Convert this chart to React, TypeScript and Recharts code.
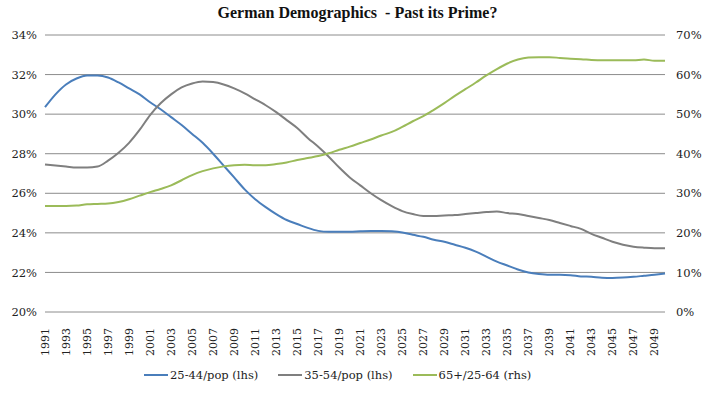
import { LineChart, Line, XAxis, YAxis, CartesianGrid } from "recharts";

// years 1991..2050
const years = [
  "1991", "1992", "1993", "1994", "1995", "1996", "1997", "1998", "1999", "2000",
  "2001", "2002", "2003", "2004", "2005", "2006", "2007", "2008", "2009", "2010",
  "2011", "2012", "2013", "2014", "2015", "2016", "2017", "2018", "2019", "2020",
  "2021", "2022", "2023", "2024", "2025", "2026", "2027", "2028", "2029", "2030",
  "2031", "2032", "2033", "2034", "2035", "2036", "2037", "2038", "2039", "2040",
  "2041", "2042", "2043", "2044", "2045", "2046", "2047", "2048", "2049", "2050",
];

// 25-44/pop (lhs), %
const young = [
  30.35, 31.0, 31.5, 31.8, 31.95, 31.95, 31.85, 31.6, 31.3, 31.0,
  30.6, 30.25, 29.85, 29.45, 29.0, 28.55, 28.0, 27.4, 26.8, 26.2,
  25.7, 25.3, 24.95, 24.65, 24.45, 24.25, 24.1, 24.05, 24.05, 24.05,
  24.08, 24.1, 24.1, 24.08, 24.02, 23.9, 23.8, 23.65, 23.55, 23.4,
  23.25, 23.05, 22.8, 22.55, 22.35, 22.15, 22.0, 21.92, 21.88, 21.88,
  21.86, 21.8, 21.78, 21.73, 21.72, 21.74, 21.78, 21.83, 21.88, 21.95,
];

// 35-54/pop (lhs), %
const middle = [
  27.45, 27.4, 27.35, 27.3, 27.3, 27.35, 27.65, 28.05, 28.55, 29.2,
  29.95, 30.55, 31.0, 31.35, 31.55, 31.65, 31.62, 31.5, 31.3, 31.05,
  30.75, 30.45, 30.1, 29.7, 29.3, 28.8, 28.35, 27.85, 27.3, 26.8,
  26.4, 26.0, 25.65, 25.35, 25.1, 24.95, 24.85, 24.85, 24.88, 24.9,
  24.95, 25.0, 25.05, 25.08, 25.0, 24.95, 24.85, 24.75, 24.65, 24.5,
  24.35, 24.2, 23.95, 23.75, 23.55, 23.4, 23.3, 23.25, 23.22, 23.22,
];

// 65+/25-64 (rhs), %
const oldAge = [
  26.8, 26.8, 26.8, 26.9, 27.2, 27.3, 27.4, 27.8, 28.5, 29.4,
  30.3, 31.1, 32.0, 33.3, 34.6, 35.6, 36.3, 36.8, 37.1, 37.2,
  37.1, 37.1, 37.4, 37.8, 38.4, 38.9, 39.4, 40.1, 41.0, 41.8,
  42.7, 43.6, 44.6, 45.5, 46.8, 48.2, 49.5, 51.1, 52.8, 54.6,
  56.3, 58.0, 59.8, 61.4, 62.8, 63.8, 64.3, 64.4, 64.4, 64.2,
  64.0, 63.9, 63.7, 63.6, 63.6, 63.6, 63.6, 63.8, 63.5, 63.5,
];

const leftTicks = [20, 22, 24, 26, 28, 30, 32, 34];
const rightTicks = [0, 10, 20, 30, 40, 50, 60, 70];

const seriesNames = ["25-44/pop (lhs)", "35-54/pop (lhs)", "65+/25-64 (rhs)"];
const seriesColors = ["#4a7ebb", "#7f7f7f", "#9bbb59"];

const data = years.map((year, i) => ({
  year,
  young: young[i],
  middle: middle[i],
  oldAge: oldAge[i],
}));

const FONT = "'DejaVu Serif', serif";

const YearTick = ({ x, y, payload }: any) => (
  <text
    x={x}
    y={y + 8}
    transform={`rotate(-90, ${x}, ${y + 8})`}
    textAnchor="end"
    dominantBaseline="central"
    fontFamily={FONT}
    fontSize={11}
    fill="#222"
  >
    {payload.value}
  </text>
);

const App = () => {
  return (
    <div style={{ position: "absolute", left: 0, top: 0, width: 715, height: 395, background: "#fff" }}>
      <div
        style={{
          position: "absolute",
          top: 4,
          width: 715,
          textAlign: "center",
          fontFamily: "'Liberation Serif', serif",
          fontWeight: "bold",
          fontSize: 16,
          color: "#111",
        }}
      >
        German Demographics&nbsp; - Past its Prime?
      </div>
      <LineChart
        width={715}
        height={395}
        data={data}
        margin={{ top: 35, right: 0, bottom: 38, left: 0 }}
      >
        <CartesianGrid vertical={false} stroke="#8c8c8c" strokeWidth={1} yAxisId="left" />
        <XAxis
          dataKey="year"
          interval={1}
          tick={<YearTick />}
          tickLine={false}
          axisLine={false}
          height={45}
        />
        <YAxis
          yAxisId="left"
          domain={[20, 34]}
          ticks={leftTicks}
          tickFormatter={(v) => `${v}%`}
          width={45}
          tickLine={false}
          axisLine={false}
          tick={{ fontFamily: FONT, fontSize: 11.5, fill: "#222" }}
        />
        <YAxis
          yAxisId="right"
          orientation="right"
          domain={[0, 70]}
          ticks={rightTicks}
          tickFormatter={(v) => `${v}%`}
          width={50}
          tickLine={false}
          axisLine={false}
          tick={{ fontFamily: FONT, fontSize: 11.5, fill: "#222", dx: 3 }}
        />
        <Line
          yAxisId="left"
          type="monotone"
          dataKey="young"
          name={seriesNames[0]}
          stroke={seriesColors[0]}
          strokeWidth={2}
          dot={false}
          isAnimationActive={false}
        />
        <Line
          yAxisId="left"
          type="monotone"
          dataKey="middle"
          name={seriesNames[1]}
          stroke={seriesColors[1]}
          strokeWidth={2}
          dot={false}
          isAnimationActive={false}
        />
        <Line
          yAxisId="right"
          type="monotone"
          dataKey="oldAge"
          name={seriesNames[2]}
          stroke={seriesColors[2]}
          strokeWidth={2}
          dot={false}
          isAnimationActive={false}
        />
      </LineChart>
      {/* legend */}
      <div
        style={{
          position: "absolute",
          top: 368,
          left: 144,
          display: "flex",
          alignItems: "center",
          gap: 20,
          fontFamily: FONT,
          fontSize: 11.5,
          color: "#222",
          whiteSpace: "nowrap",
        }}
      >
        {seriesNames.map((name, i) => (
          <div key={name} style={{ display: "flex", alignItems: "center" }}>
            <span style={{ display: "inline-block", width: 24, height: 2, background: seriesColors[i], marginRight: 2 }} />
            <span>{name}</span>
          </div>
        ))}
      </div>
    </div>
  );
};

export default App;
